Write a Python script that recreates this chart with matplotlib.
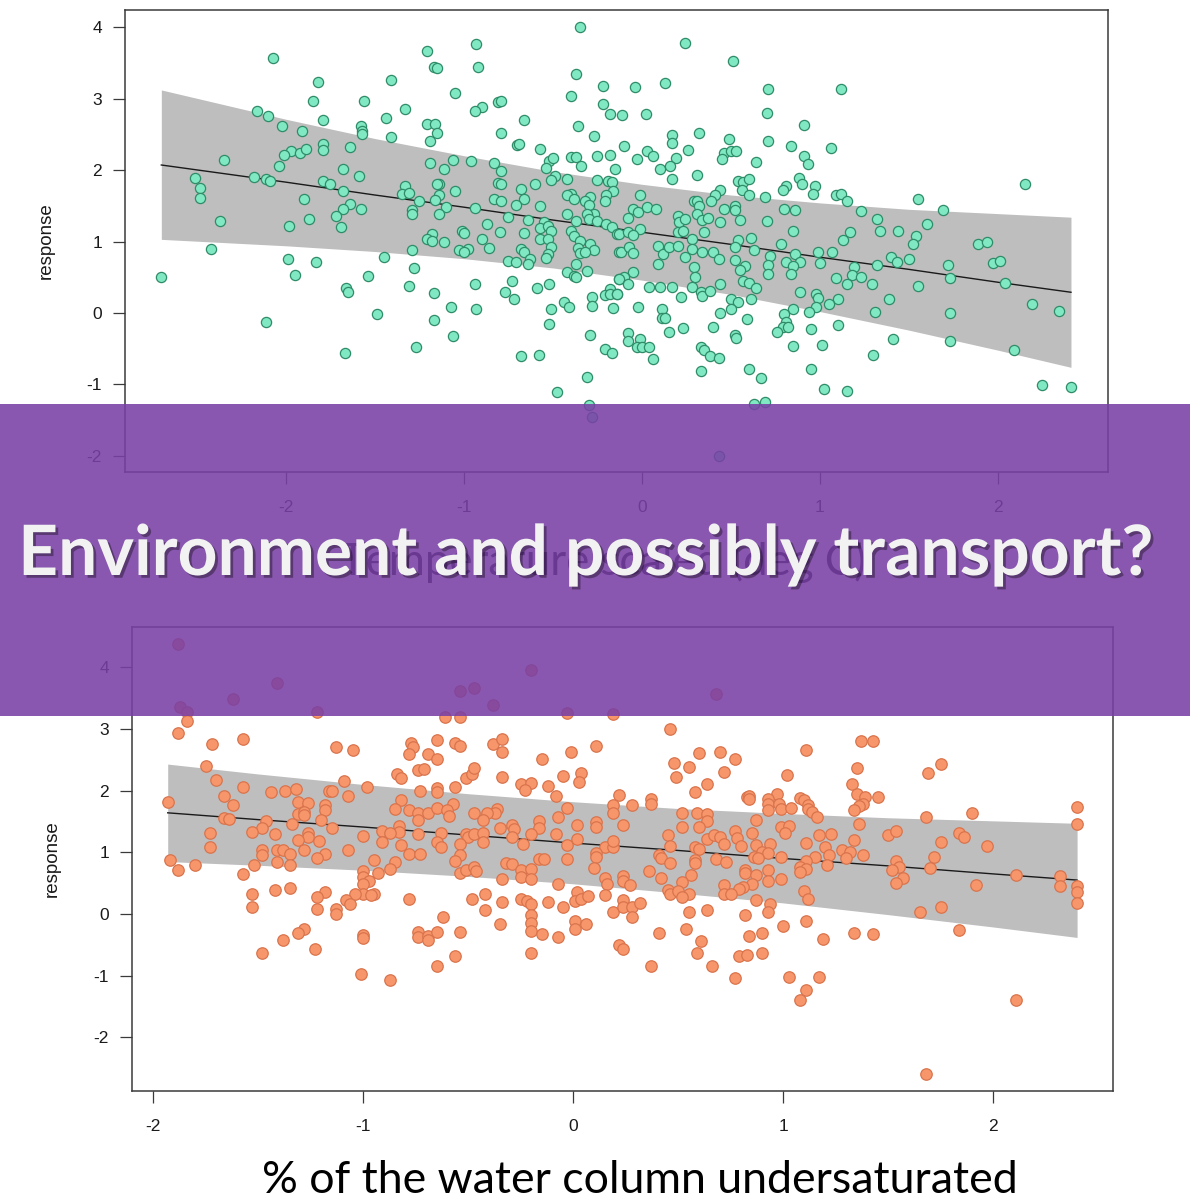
import matplotlib
matplotlib.use("Agg")
import matplotlib.pyplot as plt
import matplotlib.patheffects as pe
from matplotlib.patches import Rectangle
import numpy as np

# ---- data ----
# top panel: response vs scaled temperature
top_x = [
    -0.35, -0.93, -1.21, -2.07, -1.17, -1.15, -0.92, -0.37, -1.41, -1.82,
    -0.22, -1.05, -0.40, -1.85, -1.56, -0.81, -0.79, -0.22, -1.33, -0.90,
    -0.94, -2.16, -2.10, -0.18, -1.44, -1.79, -0.66, -1.21, -1.16, -2.02,
    -1.58, -1.57, -1.57, -0.36, -1.91, -1.15, -0.79, -1.41, -0.27, -1.19,
    -1.79, -1.79, -0.70, -0.69, -1.64, -0.57, -1.97, -2.01, -1.92, -1.89,
    -0.25, -0.40, -0.37, -0.18, -2.35, -0.96, -1.06, -1.19, -0.83, -0.52,
    -0.50, -0.54, -2.04, -0.34, -0.15, -1.68, -1.11, -0.79, -2.51, -2.48,
    -2.48, -2.18, -2.11, -2.09, -1.59, -0.49, -0.51, -0.42, -0.25, -0.19,
    -0.17, -1.79, -1.75, -0.81, -0.79, -1.14, -1.15, -0.60, -1.33, -1.35,
    -1.31, -0.68, -1.68, -1.05, -0.16, -0.20, -0.21, -0.40, -0.42, -0.38,
    -1.14, -1.16, -0.83, -0.79, -0.66, -1.90, -1.25, -0.29, -0.32, -0.30,
    -0.71, -0.57, -1.10, -0.94, -1.64, -1.68, -1.58, -1.29, -1.29, -1.14,
    -0.42, -0.27, -0.31, -0.30, -0.25, -1.72, -1.87, -0.75, -0.64, -0.37,
    -2.37, -1.98, -1.69, -0.87, -0.55, -0.57, -0.53, -0.51, -0.20, -0.17,
    -0.14, -1.01, -1.00, -0.80, -0.66, -0.40, -0.38, -0.35, -0.36, -0.35,
    -1.18, -1.21, -1.18, -1.11, -0.90, -0.57, -0.53, -0.51, -0.53, -0.86,
    -0.98, -1.03, -1.00, -0.29, -0.27, -0.32, -0.68, -0.66, -0.13, -1.29,
    -2.42, -1.45, -0.63, -0.64, -0.54, -0.75, -0.71, -1.99, -1.83, -0.37,
    -1.28, -0.42, -0.38, -0.37, -0.31, -0.13, -2.70, -1.95, -1.54, -0.73,
    -1.31, -0.94, -0.52, -0.59, -1.66, -1.65, -0.77, -1.17, -0.18, -0.21,
    -0.18, -0.14, -0.28, -0.72, -0.44, -0.41, -0.51, -0.28, -0.16, -1.07,
    -0.93, -1.49, -2.11, -1.17, -0.52, -0.29, -1.06, -1.27, -0.21, -0.17,
    -1.67, -0.68, -0.58, -0.31, -0.48, -0.30, -0.28,
    0.24, 0.51, 0.13, -0.04, 0.71, 1.12, -0.11, 0.02, 0.70, 0.91,
    0.32, 0.17, 0.17, 0.49, 0.71, -0.10, 0.84, 1.06, 0.03, 0.06,
    0.26, 0.46, 0.45, 0.50, 0.53, -0.03, 0.19, 0.91, 0.93, 0.64,
    0.10, 0.16, 0.31, 0.17, 0.88, 0.90, 0.54, 0.57, 0.60, 0.97,
    0.96, 0.81, 0.79, 0.44, 0.41, 0.39, 0.56, 0.60, 2.15, -0.01,
    0.69, 1.09, 1.12, 1.15, 1.55, 0.29, 0.31, 0.32, 0.31, 1.69,
    -0.05, -0.02, 0.03, 0.08, 0.52, 0.52, 0.46, 0.80, 0.86, 1.23,
    -0.08, 0.20, 0.21, 0.24, 0.34, 0.37, 0.44, 0.55, 0.70, 1.32,
    1.60, -0.01, -0.13, -0.08, -0.05, 0.20, 0.23, 0.28, 0.35, 0.85,
    1.34, 1.44, 1.17, 1.13, 0.54, 0.61, 1.54, 1.52, -0.12, -0.07,
    -0.05, 0.09, 0.12, 0.15, 0.20, 0.28, 0.34, 0.40, 0.52, 0.63,
    0.78, 1.89, 1.94, 0.24, 0.43, 0.52, 0.72, 0.71, 0.71, 0.86,
    0.89, 0.81, 0.85, 0.84, 0.99, 1.00, 1.07, 0.09, 0.29, 0.30,
    0.28, 0.58, 0.55, 1.40, 1.43, 1.50, 1.32, 1.72, 1.73, 1.97,
    2.01, 1.19, 1.18, 1.23, 1.15, 1.09, -0.05, -0.10, -0.13, -0.08,
    0.57, 0.60, 0.64, 0.04, 0.10, 0.17, 0.44, 1.29, 1.55, 2.04,
    -0.14, 0.33, 0.34, 0.38, 0.22, 0.89, 0.98, 0.99, 0.50, 0.54,
    0.61, 1.10, 1.05, 0.98, 0.94, 1.39, -0.02, 0.11, 0.11, 0.13,
    0.50, 0.44, 0.85, 1.31, 1.73, 2.19, 2.34, 0.59, 0.80, 0.81,
    0.79, 0.82, 0.76, 0.23, 0.15, 0.40, 0.95, 1.10, 0.52, 0.53,
    -0.08, -0.08, -0.01, -0.03, 0.00, 0.04, 1.41, 1.73, 0.85, 1.01,
    0.33, 0.35, 0.38, 0.43, 0.06, 2.09, 1.30, 0.33, 0.60, 0.95,
    0.67, 1.02, 1.15, 2.25, 2.41, 0.63, 0.69, 0.43,
]
top_y = [
    4.00, 3.76, 3.67, 3.56, 3.44, 3.42, 3.44, 3.34, 3.26, 3.23,
    3.17, 3.08, 3.04, 2.96, 2.96, 2.95, 2.96, 2.93, 2.86, 2.88,
    2.83, 2.82, 2.76, 2.79, 2.73, 2.70, 2.70, 2.64, 2.64, 2.62,
    2.61, 2.55, 2.50, 2.62, 2.54, 2.52, 2.52, 2.46, 2.47, 2.41,
    2.37, 2.28, 2.35, 2.36, 2.32, 2.30, 2.27, 2.21, 2.24, 2.29,
    2.19, 2.18, 2.18, 2.21, 2.14, 2.13, 2.14, 2.10, 2.10, 2.13,
    2.17, 2.03, 2.05, 2.05, 2.01, 2.02, 2.01, 1.98, 1.89, 1.75,
    1.61, 1.90, 1.87, 1.84, 1.92, 1.92, 1.86, 1.87, 1.86, 1.85,
    1.83, 1.84, 1.80, 1.82, 1.80, 1.81, 1.80, 1.80, 1.78, 1.66,
    1.68, 1.74, 1.70, 1.70, 1.70, 1.65, 1.57, 1.67, 1.65, 1.59,
    1.65, 1.58, 1.60, 1.57, 1.60, 1.59, 1.57, 1.62, 1.57, 1.51,
    1.51, 1.50, 1.48, 1.47, 1.52, 1.45, 1.45, 1.44, 1.38, 1.38,
    1.38, 1.39, 1.39, 1.31, 1.29, 1.35, 1.31, 1.34, 1.30, 1.28,
    1.28, 1.22, 1.20, 1.25, 1.27, 1.19, 1.21, 1.15, 1.25, 1.20,
    1.10, 1.15, 1.12, 1.13, 1.12, 1.14, 1.08, 1.01, 0.91, 0.84,
    1.11, 1.03, 1.01, 1.00, 1.04, 1.04, 1.04, 0.92, 0.83, 0.91,
    0.90, 0.88, 0.85, 0.97, 0.88, 0.85, 0.89, 0.86, 0.86, 0.88,
    0.90, 0.78, 0.75, 0.69, 0.77, 0.73, 0.71, 0.76, 0.71, 0.69,
    0.63, 0.58, 0.52, 0.50, 0.59, 0.47, 0.51, 0.53, 0.52, 0.45,
    0.38, 0.40, 0.41, 0.35, 0.35, 0.30, 0.29, 0.28, 0.33, 0.25,
    0.26, 0.26, 0.23, 0.19, 0.15, 0.08, 0.05, 0.10, 0.07, 0.08,
    0.06, -0.01, -0.12, -0.10, -0.15, -0.31, -0.32, -0.48, -0.51, -0.56,
    -0.56, -0.60, -0.59, -0.90, -1.10, -1.28, -1.45,
    3.78, 3.52, 3.22, 3.16, 3.13, 3.13, 2.77, 2.78, 2.80, 2.63,
    2.52, 2.49, 2.38, 2.43, 2.40, 2.33, 2.34, 2.31, 2.27, 2.19,
    2.28, 2.24, 2.16, 2.27, 2.27, 2.16, 2.17, 2.19, 2.08, 2.11,
    2.02, 2.05, 1.93, 1.88, 1.89, 1.81, 1.85, 1.83, 1.88, 1.78,
    1.66, 1.78, 1.72, 1.72, 1.65, 1.57, 1.72, 1.65, 1.80, 1.65,
    1.62, 1.65, 1.66, 1.57, 1.59, 1.57, 1.57, 1.50, 1.39, 1.44,
    1.45, 1.41, 1.48, 1.45, 1.49, 1.44, 1.46, 1.45, 1.44, 1.43,
    1.33, 1.36, 1.27, 1.32, 1.30, 1.33, 1.27, 1.30, 1.29, 1.32,
    1.24, 1.18, 1.11, 1.13, 1.09, 1.13, 1.14, 1.03, 1.13, 1.14,
    1.15, 1.14, 1.13, 1.02, 1.02, 1.05, 1.08, 0.97, 0.86, 0.92,
    0.84, 0.94, 0.83, 0.93, 0.94, 0.89, 0.86, 0.86, 0.92, 0.88,
    0.96, 0.96, 1.00, 0.79, 0.75, 0.74, 0.80, 0.67, 0.54, 0.82,
    0.71, 0.71, 0.66, 0.55, 0.86, 0.70, 0.85, 0.69, 0.65, 0.51,
    0.37, 0.66, 0.60, 0.78, 0.71, 0.75, 0.67, 0.67, 0.49, 0.70,
    0.73, 0.65, 0.53, 0.51, 0.41, 0.49, 0.57, 0.51, 0.47, 0.41,
    0.45, 0.42, 0.35, 0.36, 0.36, 0.36, 0.40, 0.40, 0.38, 0.42,
    0.27, 0.29, 0.24, 0.31, 0.23, 0.30, 0.26, 0.21, 0.20, 0.16,
    0.20, 0.20, 0.13, 0.09, 0.02, 0.19, 0.09, 0.06, -0.07, -0.07,
    0.06, 0.00, 0.06, 0.01, 0.00, 0.13, 0.03, -0.08, -0.02, -0.12,
    -0.20, -0.20, -0.27, -0.21, -0.27, -0.20, -0.22, -0.17, -0.31, -0.35,
    -0.28, -0.39, -0.37, -0.48, -0.48, -0.47, -0.37, -0.39, -0.46, -0.45,
    -0.48, -0.52, -0.60, -0.63, -0.65, -0.52, -0.59, -0.81, -0.78, -0.79,
    -0.91, -1.06, -1.09, -1.01, -1.04, -1.27, -1.25, -2.00,
]

# fitted line and band, top panel
top_fit_x = [-2.70, -2.0, -1.5, -1.0, -0.5, 0.0, 0.5, 1.0, 1.5, 2.0, 2.41]
top_fit = [2.07, 1.83, 1.65, 1.48, 1.30, 1.13, 0.96, 0.78, 0.61, 0.43, 0.29]
top_hi = [3.12, 2.71, 2.44, 2.20, 1.98, 1.80, 1.65, 1.54, 1.45, 1.39, 1.34]
top_lo = [1.03, 0.94, 0.86, 0.76, 0.63, 0.46, 0.26, 0.02, -0.24, -0.52, -0.76]

# bottom panel: response vs % of water column undersaturated
bot_x = [
    -1.88, -0.20, -1.41, -1.62, -0.54, -0.47, -0.38, -1.87, -1.84, -1.84,
    -1.22, -0.61, -0.54, -0.03, 0.19, -1.88, -1.72, -1.57, -1.13, -1.05,
    -0.77, -0.76, -0.78, -0.65, -0.69, -0.65, -0.56, -0.54, -0.38, -0.34,
    -0.34, -0.01, 0.11, -0.15, -1.75, -0.74, -0.71, -0.84, -0.82, -0.51,
    -0.48, -0.47, -0.34, -0.05, 0.04, 0.03, -1.70, -1.09, -0.25, -0.20,
    -0.23, -0.56, -0.12, -1.57, -0.98, -1.37, -1.32, -1.44, -1.16, -1.15,
    -0.73, -0.65, -0.65, 0.22, -1.66, -1.07, -0.08, -1.93, -1.31, -1.26,
    -0.82, -0.57, -1.62, -1.18, -1.18, -0.85, -0.03, 0.19, 0.19, -0.78,
    -0.74, -0.69, -0.74, -0.65, -0.60, -0.59, -0.47, -0.36, -0.37, -0.41,
    -0.43, -0.35, -1.31, -1.28, -1.28, -1.20, -1.66, -1.64, -1.46, -1.48,
    -1.34, -0.16, -0.16, -0.07, 0.02, 0.11, 0.11, 0.24, -0.29, -0.28,
    -0.29, -1.15, -0.83, -0.83, -1.53, -1.73, -1.42, -1.26, -1.26, -0.91,
    -0.87, -0.74, -0.63, -0.51, -0.50, -0.47, -0.43, -0.43, -0.20, -0.08,
    -1.00, -1.31, -1.21, 0.02, -0.82, -0.91, -0.65, -0.63, -0.54, -0.24,
    -0.03, 0.15, 0.19, 0.19, -1.73, -1.07, -1.48, -1.48, -1.41, -1.38,
    -1.35, -1.28, -1.18, -1.22, -0.78, -0.73, -0.54, -0.56, 0.11, 0.11,
    -0.16, -0.14, -0.03, -1.92, -1.80, -1.88, -1.52, -1.57, -1.41, -1.35,
    -0.95, -0.85, -0.87, -0.32, -0.29, -0.25, -0.20, -0.25, -0.20, -0.54,
    -0.51, -0.47, -0.46, 0.10, -1.00, -1.00, -0.97, -1.00, -0.93, -0.34,
    0.15, 0.16, 0.24, 0.24, -0.07, -1.42, -1.35, -1.18, -1.22, -1.53,
    -1.53, -1.00, -0.95, -0.96, -1.04, -1.08, -1.06, -0.78, -0.42, -0.48,
    -0.42, -0.34, -0.25, -0.22, -0.20, -0.12, 0.02, 0.01, 0.04, 0.07,
    0.15, -0.05, 0.19, 0.24, 0.24, -1.22, -1.13, -1.13, -0.62, -0.20,
    -0.20, -0.20, -0.35, 0.01, 0.01, 0.06, -1.28, -1.31, -0.74, -0.74,
    -0.69, -0.69, -0.65, -0.54, -1.00, -1.00, -0.15, -0.07, -1.38, -1.23,
    0.22, 0.24, -1.48, -0.56, -0.20, -0.65, -1.01, -0.87,
    0.68, 0.46, 1.37, 1.43, 1.11, 0.60, 0.70, 0.77, 0.48, 0.55,
    1.75, 1.69, 1.35, 0.72, 1.02, 0.49, 0.64, 1.33, 0.58, 0.97,
    0.93, 0.93, 0.93, 0.83, 0.84, 0.84, 0.37, 0.37, 0.28, 1.08,
    1.10, 1.12, 1.12, 1.14, 1.16, 0.98, 0.99, 1.04, 1.35, 1.39,
    1.38, 1.36, 1.34, 1.45, 2.40, 2.40, 1.90, 1.68, 0.52, 0.59,
    0.64, 0.64, 0.60, 0.52, 0.87, 0.99, 1.03, 1.01, 1.36, 0.45,
    0.46, 0.77, 0.78, 0.80, 0.64, 0.67, 0.70, 0.72, 0.85, 1.17,
    1.23, 1.50, 1.54, 1.84, 1.86, 0.87, 0.94, 1.11, 1.20, 1.34,
    1.75, 1.97, 0.58, 0.60, 0.41, 0.42, 0.46, 0.58, 0.58, 0.68,
    0.73, 0.90, 0.93, 0.86, 0.88, 0.99, 1.15, 1.22, 1.28, 1.32,
    1.30, 1.38, 1.72, 1.11, 1.08, 1.11, 1.08, 1.21, 1.54, 1.55,
    1.52, 1.70, 2.11, 2.32, 2.32, 2.40, 2.40, 2.40, 0.36, 0.27,
    0.42, 0.56, 0.52, 0.82, 0.82, 0.87, 0.93, 0.93, 0.99, 0.85,
    0.81, 0.79, 0.72, 0.72, 0.75, 0.45, 0.46, 0.50, 0.55, 0.52,
    1.57, 1.54, 1.92, 1.10, 1.12, 0.87, 0.94, 0.93, 0.28, 0.32,
    0.28, 0.64, 0.55, 0.82, 1.75, 1.65, 1.11, 1.00, 1.84, 0.41,
    0.54, 0.84, 0.90, 1.19, 1.34, 1.43, 0.61, 0.59, 0.79, 0.83,
    0.90, 0.37, 0.66, 0.77, 1.03, 1.17, 1.11, 1.08, 2.11, 1.68,
]
bot_y = [
    4.38, 3.95, 3.75, 3.48, 3.61, 3.67, 3.39, 3.35, 3.27, 3.13,
    3.27, 3.20, 3.19, 3.25, 3.24, 2.93, 2.75, 2.83, 2.70, 2.66,
    2.77, 2.71, 2.59, 2.82, 2.60, 2.52, 2.77, 2.73, 2.76, 2.83,
    2.62, 2.63, 2.72, 2.51, 2.40, 2.34, 2.35, 2.27, 2.21, 2.20,
    2.27, 2.37, 2.22, 2.23, 2.29, 2.14, 2.18, 2.15, 2.11, 2.12,
    2.01, 2.06, 2.07, 2.06, 2.06, 2.00, 2.02, 1.97, 1.99, 1.99,
    1.99, 2.04, 1.98, 1.93, 1.91, 1.91, 1.91, 1.81, 1.81, 1.80,
    1.85, 1.79, 1.76, 1.76, 1.69, 1.71, 1.72, 1.77, 1.64, 1.68,
    1.64, 1.63, 1.53, 1.72, 1.68, 1.59, 1.63, 1.71, 1.63, 1.63,
    1.52, 1.40, 1.62, 1.65, 1.60, 1.53, 1.56, 1.54, 1.50, 1.40,
    1.46, 1.51, 1.40, 1.57, 1.45, 1.49, 1.41, 1.45, 1.45, 1.38,
    1.24, 1.39, 1.42, 1.33, 1.33, 1.31, 1.29, 1.32, 1.25, 1.34,
    1.31, 1.30, 1.32, 1.30, 1.24, 1.30, 1.31, 1.17, 1.30, 1.30,
    1.27, 1.20, 1.19, 1.22, 1.12, 1.16, 1.16, 1.09, 1.13, 1.13,
    1.12, 1.08, 1.08, 1.18, 1.08, 1.03, 1.04, 0.95, 1.03, 1.03,
    0.97, 1.03, 0.97, 0.91, 0.98, 0.98, 0.95, 0.86, 0.99, 0.92,
    0.89, 0.89, 0.89, 0.87, 0.80, 0.72, 0.80, 0.65, 0.84, 0.80,
    0.87, 0.85, 0.73, 0.83, 0.81, 0.72, 0.73, 0.60, 0.57, 0.67,
    0.71, 0.76, 0.69, 0.75, 0.69, 0.60, 0.54, 0.48, 0.67, 0.57,
    0.58, 0.48, 0.61, 0.53, 0.49, 0.39, 0.42, 0.36, 0.28, 0.32,
    0.12, 0.33, 0.33, 0.30, 0.32, 0.23, 0.17, 0.25, 0.32, 0.24,
    0.07, 0.20, 0.25, 0.21, 0.17, 0.20, 0.35, 0.21, 0.24, 0.29,
    0.31, 0.11, 0.04, 0.22, 0.12, 0.08, 0.08, 0.00, -0.05, -0.02,
    -0.14, -0.27, -0.16, -0.12, -0.24, -0.16, -0.24, -0.31, -0.29, -0.38,
    -0.36, -0.42, -0.29, -0.29, -0.34, -0.39, -0.32, -0.38, -0.42, -0.57,
    -0.50, -0.56, -0.64, -0.68, -0.64, -0.85, -0.98, -1.07,
    3.56, 3.00, 2.81, 2.81, 2.66, 2.61, 2.63, 2.52, 2.45, 2.39,
    2.43, 2.28, 2.37, 2.30, 2.25, 2.22, 2.10, 2.11, 1.98, 1.94,
    1.86, 1.78, 1.68, 1.89, 1.92, 1.87, 1.87, 1.79, 1.77, 1.88,
    1.85, 1.77, 1.71, 1.66, 1.57, 1.78, 1.70, 1.72, 1.95, 1.89,
    1.78, 1.75, 1.69, 1.89, 1.74, 1.46, 1.63, 1.58, 1.63, 1.64,
    1.62, 1.50, 1.41, 1.41, 1.53, 1.41, 1.42, 1.31, 1.46, 1.28,
    1.11, 1.35, 1.23, 1.11, 1.21, 1.28, 1.25, 1.14, 1.31, 1.28,
    1.30, 1.28, 1.35, 1.31, 1.25, 1.12, 1.13, 1.15, 1.09, 1.20,
    1.17, 1.11, 1.09, 1.06, 0.96, 0.90, 0.83, 0.88, 0.83, 0.89,
    0.84, 1.00, 0.99, 0.92, 0.90, 0.93, 0.92, 0.95, 1.04, 1.01,
    0.90, 0.96, 0.92, 0.86, 0.76, 0.73, 0.68, 0.79, 0.86, 0.76,
    0.71, 0.75, 0.63, 0.62, 0.45, 0.45, 0.35, 0.18, 0.69, 0.47,
    0.58, 0.63, 0.52, 0.72, 0.67, 0.64, 0.72, 0.54, 0.57, 0.49,
    0.43, 0.40, 0.47, 0.32, 0.32, 0.39, 0.33, 0.38, 0.33, 0.27,
    0.58, 0.51, 0.47, 0.37, 0.24, 0.23, 0.17, 0.04, 0.11, 0.18,
    -0.05, 0.07, 0.03, -0.01, 0.12, 0.04, -0.12, -0.20, -0.26, -0.30,
    -0.25, -0.35, -0.31, -0.40, -0.30, -0.32, -0.43, -0.63, -0.68, -0.67,
    -0.63, -0.85, -0.85, -1.04, -1.02, -1.02, -1.23, -1.40, -1.39, -2.59,
]

bot_fit_x = [-1.93, -1.5, -1.0, -0.5, 0.0, 0.5, 1.0, 1.5, 2.0, 2.40]
bot_fit = [1.64, 1.53, 1.41, 1.28, 1.15, 1.03, 0.90, 0.78, 0.65, 0.55]
bot_hi = [2.43, 2.27, 2.10, 1.95, 1.82, 1.71, 1.63, 1.56, 1.51, 1.47]
bot_lo = [0.85, 0.79, 0.71, 0.61, 0.49, 0.34, 0.18, -0.01, -0.21, -0.38]

ticks_x = [-2, -1, 0, 1, 2]
ticks_y = [-2, -1, 0, 1, 2, 3, 4]

title = "Environment and possibly transport?"
top_xlabel = "Temperature scaled (deg C)"
bot_xlabel = "% of the water column undersaturated"

W, H = 1190, 1202
fig = plt.figure(figsize=(W / 100, H / 100), dpi=100)


def panel(rect, xs, ys, fx, fit, lo, hi, xlim, ylim, face, edge, size, ylab_x):
    ax = fig.add_axes(rect)
    ax.fill_between(fx, lo, hi, color="#bebebe", lw=0, zorder=1)
    ax.plot(fx, fit, color="#1a1a1a", lw=1.0, zorder=2)
    ax.scatter(xs, ys, s=size, facecolor=face, edgecolor=edge, linewidth=0.9, zorder=3)
    ax.set_xlim(*xlim)
    ax.set_ylim(*ylim)
    ax.set_xticks(ticks_x)
    ax.set_yticks(ticks_y)
    ax.set_xticklabels([str(t) for t in ticks_x])
    ax.set_yticklabels([str(t) for t in ticks_y])
    for s in ax.spines.values():
        s.set_color("#3a3a3a")
        s.set_linewidth(1.1)
    ax.tick_params(direction="out", length=8.5, width=0.9, color="#3a3a3a",
                   labelsize=12.5, labelcolor="#1a1a1a")
    ax.tick_params(axis="x", pad=12)
    ax.tick_params(axis="y", pad=8)
    for lab in ax.get_xticklabels() + ax.get_yticklabels():
        lab.set_fontfamily("Liberation Sans")
    ax.set_ylabel("response", fontsize=13.5, family="Liberation Sans", color="#1a1a1a")
    ax.yaxis.set_label_coords(ylab_x, 0.5)
    return ax


ax1 = panel([125 / W, 1 - 472 / H, 983 / W, 462 / H], top_x, top_y,
            top_fit_x, top_fit, top_lo, top_hi, (-2.904, 2.618), (-2.224, 4.238),
            "#80e8c2", "#2f8c68", 54, -0.071)
ax2 = panel([132 / W, 1 - 1091 / H, 981 / W, 464 / H], bot_x, bot_y,
            bot_fit_x, bot_fit, bot_lo, bot_hi, (-2.10, 2.571), (-2.869, 4.652),
            "#f7966b", "#d9744d", 68, -0.073)

# axis titles in the slide font
lab1 = fig.text(603 / W, 1 - 575 / H, top_xlabel, ha="center", va="baseline",
                family="Lato", fontsize=30, color="black", zorder=1)
lab2 = fig.text(640 / W, 1 - 1193 / H, bot_xlabel, ha="center", va="baseline",
                family="Lato", fontsize=30, color="black", zorder=1)

# purple banner over the middle
fig.add_artist(Rectangle((0, 1 - 716 / H), 1, 312 / H, transform=fig.transFigure,
                         facecolor="#7940a5", edgecolor="none", alpha=0.88, zorder=10))
ttl = fig.text(586 / W, 1 - 575 / H, title, ha="center", va="baseline",
               family="Lato", fontweight="bold", fontsize=50, color="#f2f2f2", zorder=11,
               path_effects=[pe.withSimplePatchShadow(offset=(2, -2), shadow_rgbFace="black", alpha=0.35)])

# fit text widths to the reference
fig.canvas.draw()
r = fig.canvas.get_renderer()
for t, target in [(ttl, 1137), (lab2, 755), (lab1, 525)]:
    w = t.get_window_extent(r).width
    t.set_fontsize(t.get_fontsize() * target / w)

fig.savefig("out.png", dpi=100)
